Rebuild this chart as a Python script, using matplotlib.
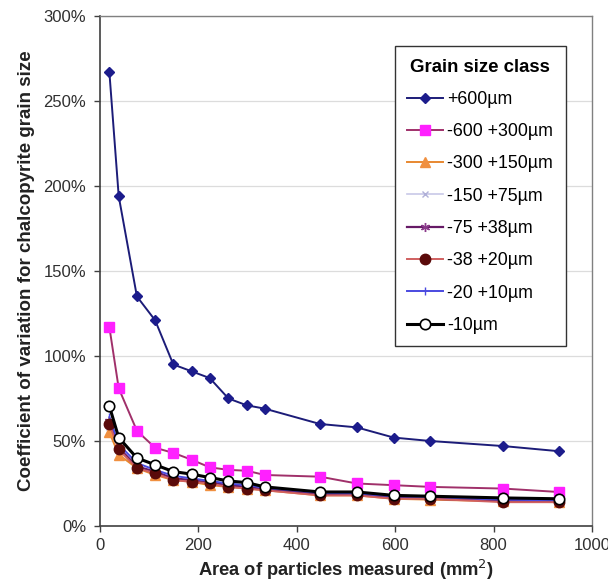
import matplotlib
matplotlib.use("Agg")
import matplotlib.pyplot as plt
from matplotlib.ticker import FuncFormatter

plt.rcParams['font.family'] = ['Liberation Sans', 'DejaVu Sans']

area = [19, 38, 75, 112, 149, 186, 223, 261, 298, 335, 447, 522, 597, 671, 820, 932]

labels = ["+600µm", "-600 +300µm", "-300 +150µm", "-150 +75µm",
          "-75 +38µm", "-38 +20µm", "-20 +10µm", "-10µm"]

cv_600 = [267, 194, 135, 121, 95, 91, 87, 75, 71, 69, 60, 58, 52, 50, 47, 44]
cv_600_300 = [117, 81, 56, 46, 43, 39, 34.5, 33, 32.5, 30, 29, 25, 24, 23, 22, 20]
cv_300_150 = [55, 42, 34, 30, 27, 26, 24, 23, 22, 21, 18, 18, 16, 15.5, 14.5, 14]
cv_150_75 = [58, 44, 35, 31, 28, 27, 25, 24, 23, 22, 19, 18.5, 17, 16, 15, 14.5]
cv_75_38 = [62, 46, 35, 32, 28, 27, 25.5, 24, 23, 21.5, 19, 18.5, 17, 16, 15, 14.5]
cv_38_20 = [60, 45, 34, 31, 27, 26, 25, 23, 22, 21, 18, 18, 16, 16, 14, 14]
cv_20_10 = [64, 48, 37, 33, 29.5, 28, 26.5, 25, 24, 22.5, 19.5, 19, 17.5, 17, 15.5, 15]
cv_10 = [70.5, 52, 40, 36, 32, 30.5, 28.5, 26.5, 25.5, 23, 20, 20, 18, 17.5, 16.5, 16]

series = [cv_600, cv_600_300, cv_300_150, cv_150_75, cv_75_38, cv_38_20, cv_20_10, cv_10]

styles = [
    dict(color='#1c1c78', marker='D', markersize=5.5, mfc='#1c1c8c', mec='#1c1c8c', lw=1.4),
    dict(color='#a0306a', marker='s', markersize=7.5, mfc='#ff20ff', mec='#ff20ff', lw=1.4),
    dict(color='#e88830', marker='^', markersize=6.5, mfc='#f09040', mec='#f09040', lw=1.4),
    dict(color='#c8c8e8', marker='x', markersize=5, mfc='#b0b0d8', mec='#b0b0d8', lw=1.2),
    dict(color='#661a66', marker=(6, 2, 0), markersize=6.5, mfc='#8a3a8a', mec='#8a3a8a', lw=1.6),
    dict(color='#d06060', marker='o', markersize=7.5, mfc='#5a0a0a', mec='#5a0a0a', lw=1.4),
    dict(color='#4a4ae0', marker='|', markersize=6, mfc='#4a4ae0', mec='#4a4ae0', lw=1.4),
    dict(color='#000000', marker='o', markersize=7.5, mfc='white', mec='black', lw=2.2, mew=1.2),
]

fig = plt.figure(figsize=(6.08, 5.83), dpi=100)
ax = fig.add_axes([0.1645, 0.0978, 0.8092, 0.8748])

zorders = [5, 6, 3, 2, 3, 4, 3, 7]
for y, lab, st, z in zip(series, labels, styles, zorders):
    ax.plot(area, y, label=lab, zorder=z, **st)

ax.set_xlim(0, 1000)
ax.set_ylim(0, 300)
ax.set_xticks([0, 200, 400, 600, 800, 1000])
ax.set_yticks([0, 50, 100, 150, 200, 250, 300])
ax.yaxis.set_major_formatter(FuncFormatter(lambda v, p: f"{int(v)}%"))
ax.grid(axis='y', color='#dcdcdc', lw=0.9)
ax.set_axisbelow(True)
for s in ['top', 'right']:
    ax.spines[s].set_color('#808080')
    ax.spines[s].set_linewidth(1.0)
for s in ['left', 'bottom']:
    ax.spines[s].set_color('#404040')
    ax.spines[s].set_linewidth(1.2)
ax.tick_params(axis='both', direction='out', length=4, width=1, color='#404040',
               labelsize=12, labelcolor='#303030')
ax.tick_params(axis='y', pad=6)
ax.tick_params(axis='x', pad=5)

ax.set_xlabel("Area of particles measured (mm$^2$)", fontsize=13.2, fontweight='bold',
              color='#222222', labelpad=3)
ax.set_ylabel("Coefficient of variation for chalcopyrite grain size", fontsize=13.5,
              fontweight='bold', color='#222222', labelpad=6)

leg = ax.legend(loc='upper left', bbox_to_anchor=(0.6497, 0.921), bbox_transform=fig.transFigure,
                title="Grain size class", fontsize=12.8, frameon=True, fancybox=False,
                edgecolor='#333333', framealpha=1, borderpad=0.7, labelspacing=0.86,
                handlelength=2.0, handletextpad=0.25, borderaxespad=0)
leg.get_title().set_fontweight('bold')
leg.get_title().set_fontsize(13.4)
leg.get_frame().set_linewidth(1.0)
leg.set_zorder(10)

fig.savefig("out.png", dpi=100)
